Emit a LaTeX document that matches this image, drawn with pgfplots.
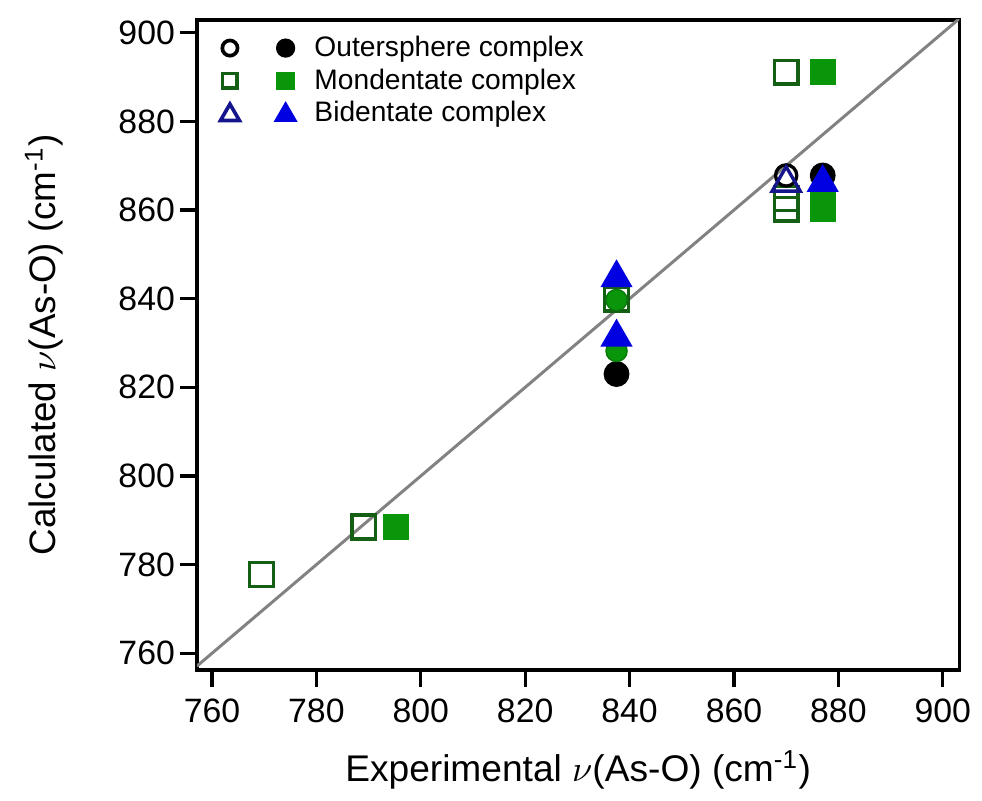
\documentclass[border=0pt]{standalone}
\usepackage{fontspec}
\setmainfont{Liberation Sans}
\usepackage{pgfplots}
\pgfplotsset{compat=1.18}

\definecolor{mgreen}{RGB}{10,150,10}
\definecolor{dgreen}{RGB}{20,95,20}
\definecolor{mblue}{RGB}{0,0,225}
\definecolor{dblue}{RGB}{20,20,140}
\definecolor{lgray}{RGB}{130,130,130}

\begin{document}
\begin{tikzpicture}
\begin{axis}[
    scale only axis,
    width=230.1pt, height=196.2pt,
    xmin=757.1, xmax=903.2, ymin=756.2, ymax=902.9,
    xtick={760,780,...,900}, ytick={760,780,...,900},
    xtick pos=left, ytick pos=left,
    tick align=outside,
    major tick length=5.1pt,
    tick style={black, line width=1pt},
    axis line style={black, line width=1.1pt},
    /pgf/number format/assume math mode=true,
    /pgf/number format/1000 sep={},
    ticklabel style={font=\fontsize{10.2}{12}\selectfont},
    yticklabel style={xshift=2pt},
    xlabel={Experimental $\nu$(As-O) (cm\textsuperscript{-1})},
    ylabel={Calculated $\nu$(As-O) (cm\textsuperscript{-1})},
    every axis x label/.style={at={(axis description cs:0.5,-0.1713)}, anchor=base,
        font=\fontsize{11.2}{13}\selectfont},
    every axis y label/.style={at={(axis description cs:-0.1851,0.5)}, rotate=90, anchor=base,
        font=\fontsize{11.1}{13}\selectfont},
    legend style={draw=none, fill=none, inner sep=0pt, outer sep=0pt,
        at={(axis description cs:0.026,0.977)}, anchor=north west,
        font=\fontsize{8.5}{10}\selectfont, column sep=5.2pt, row sep=1.9pt,
        nodes={inner sep=0pt, text height=6.5pt, text depth=1.5pt}},
    legend cell align=left,
]
% outersphere, filled
\addplot[forget plot, only marks, mark=*, mark size=3.7pt, black] coordinates {
    (837.5,823.0) (877.0,867.8)};
% monodentate, open
\addplot[forget plot, only marks, mark=square, mark size=3.6pt, dgreen, line width=1pt] coordinates {
    (769.5,777.8) (789.1,788.5) (837.5,839.9) (870.0,862.6) (870.0,860.2) (870.0,891.1)};
% monodentate, filled
\addplot[forget plot, only marks, mark=square*, mark size=3.7pt, mgreen, mark options={draw=mgreen, fill=mgreen}] coordinates {
    (795.3,788.5) (877.0,862.6) (877.0,860.2) (877.0,891.1)};
\addplot[forget plot, only marks, mark=square, mark size=3.6pt, dgreen, line width=1pt] coordinates {
    (837.5,839.9)};
% green circles
\addplot[forget plot, only marks, mark=*, mark size=3.2pt, mgreen, mark options={draw=mgreen!80!black, fill=mgreen}] coordinates {
    (837.5,839.7) (837.5,828.2)};
% outersphere, open
\addplot[forget plot, only marks, mark=o, mark size=3.2pt, black, line width=1pt] coordinates {
    (870.0,867.8)};
% bidentate, filled
\addplot[forget plot, only marks, mark=triangle*, mark size=5.2pt, mblue, mark options={draw=mblue, fill=mblue}] coordinates {
    (837.5,844.7) (837.5,831.3) (877.0,866.2)};
% bidentate, open
\addplot[forget plot, only marks, mark=triangle, mark size=4.9pt, dblue, line width=1pt] coordinates {
    (870.0,866.1)};
% 1:1 line
\addplot[forget plot, lgray, line width=0.9pt] coordinates {(757.1,757.1) (903.2,903.2)};

\addlegendimage{legend image code/.code={
    \path[draw=none, fill=none] (-4pt,-3pt) rectangle (20.3pt,3pt);
    \draw[black, line width=1.1pt] plot[only marks, mark=o, mark size=2.3pt] coordinates {(0pt,0pt)};
    \fill[black] plot[only marks, mark=*, mark size=2.7pt] coordinates {(16.8pt,0pt)};
}}
\addlegendentry{Outersphere complex}
\addlegendimage{legend image code/.code={
    \path[draw=none, fill=none] (-4pt,-3pt) rectangle (20.3pt,3pt);
    \draw[dgreen, line width=1.1pt] plot[only marks, mark=square, mark size=2.2pt] coordinates {(0pt,0pt)};
    \fill[mgreen] plot[only marks, mark=square*, mark size=2.6pt] coordinates {(16.8pt,0pt)};
}}
\addlegendentry{Mondentate complex}
\addlegendimage{legend image code/.code={
    \path[draw=none, fill=none] (-4pt,-3pt) rectangle (20.3pt,3pt);
    \draw[dblue, line width=1.1pt] plot[only marks, mark=triangle, mark size=3.3pt] coordinates {(0pt,-0.4pt)};
    \fill[mblue] plot[only marks, mark=triangle*, mark size=3.8pt] coordinates {(16.8pt,-0.4pt)};
}}
\addlegendentry{Bidentate complex}
\end{axis}
\path ([shift={(-59.4pt,-36.6pt)}]current axis.south west) rectangle ([shift={(5.1pt,6pt)}]current axis.north east);
\end{tikzpicture}
\end{document}
